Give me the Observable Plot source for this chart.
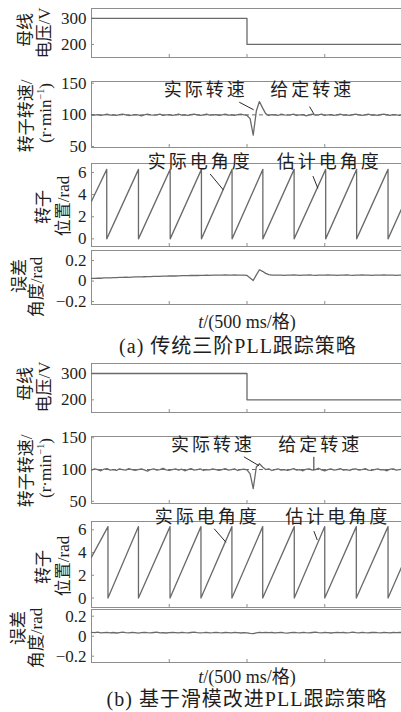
<!DOCTYPE html>
<html><head><meta charset="utf-8">
<script src="https://cdn.jsdelivr.net/npm/d3@7"></script>
<script src="https://cdn.jsdelivr.net/npm/@observablehq/plot@0.6"></script>
<style>
html,body{margin:0;padding:0;background:#fff;}
#root{position:relative;width:401px;height:712px;overflow:hidden;font-family:"Liberation Serif","Noto Sans CJK SC",serif;color:#1e1e1e;}
.ylab{position:absolute;white-space:nowrap;font-size:17px;transform:translate(-50%,-50%) rotate(-90deg);line-height:1;}
.ylab sup{font-size:0.6em;vertical-align:0.6em;line-height:0;}
.cap{position:absolute;white-space:nowrap;transform:translate(-50%,-50%);line-height:1;}
text[aria-label="annot"]{letter-spacing:3px;}
</style></head>
<body><div id="root"></div>
<script>
// ---------- data ----------
const xTicks = [500, 1000, 1500];          // ms, 500 ms per division
const voltTicks = [200, 300];
const speedTicks = [50, 100, 150];
const posTicks = [0, 2, 4, 6];
const errTicks = [-0.2, 0, 0.2];

const voltTime = [0, 1000, 1000, 2000];
const voltA = [300, 300, 200, 200];
const voltB = [300, 300, 200, 200];

const sampleStep = 20; // ms between samples of the series below
const speedA = [
 100,99.5,100.5,99,100,101,99.5,100,99,100.5,101,100,99,99.5,100.5,100,98.5,100,101,100,
 99.5,100,101,99,100,100.5,99,100,101,99.5,100,99,100.5,101,100,99,100,101,99.5,100,
 100.5,99,100,101,99.5,100,99,100.5,101,100,
 99,94,68,106,121,111,102,99,100.5,100,
 99,101,100,99.5,100,101,99,100,100.5,98.5,100,101,99.5,100,101,99,100,100.5,99,100,
 101,99.5,100,99,100.5,101,100,99,100,101,99.5,100,99,100.5,101,100,99,100.5,100,99,100
];
const speedB = [
 99,101,100,98,100.5,101.5,99,100,98.5,101,100,99,101.5,100,98.5,100,101,99.5,97.5,100,
 101,99,100,102,99.5,98.5,100,101,99,100.5,98,100,101.5,99,100,101,98.5,100,99.5,101,
 100,98.5,100,101.5,99,100,101,98.5,100,100.5,
 99.5,93,70,104,109,104,100,101,98.5,100,
 101,99,100,98.5,100,101.5,99,100,98,100.5,101,99,100,102,99.5,98,100,101,99,100,
 101.5,99,100,98.5,100.5,101,99,100,101.5,99,98.5,100,101,99.5,100,98,100.5,101,99,100,100.5
];
const refSpeed = [100];

const errA = [
 .025,.026,.028,.027,.030,.031,.030,.033,.034,.035,.036,.037,.036,.038,.040,.041,.040,.042,.043,.044,
 .045,.046,.045,.047,.048,.049,.050,.049,.051,.052,.053,.052,.054,.055,.054,.056,.055,.057,.056,.057,
 .058,.057,.058,.059,.057,.058,.059,.058,.057,.058,
 .055,.030,.005,.060,.110,.095,.075,.062,.058,.057,
 .058,.057,.056,.058,.057,.059,.058,.056,.057,.058,.059,.057,.056,.058,.057,.058,.059,.057,.058,.056,
 .057,.058,.059,.057,.056,.058,.057,.059,.058,.057,.056,.058,.057,.058,.059,.057,.058,.057,.056,.058,.057
];
const errB = [
 .038,.035,.040,.033,.036,.039,.034,.037,.032,.036,.040,.035,.033,.038,.036,.031,.035,.039,.036,.034,
 .037,.040,.034,.036,.032,.035,.038,.036,.033,.039,.035,.034,.037,.040,.036,.033,.035,.038,.034,.036,
 .039,.035,.033,.037,.036,.034,.038,.035,.032,.036,
 .034,.028,.026,.033,.038,.036,.039,.035,.037,.034,
 .036,.038,.033,.031,.035,.039,.036,.034,.038,.035,.033,.037,.040,.036,.034,.038,.035,.032,.036,.039,
 .035,.037,.033,.036,.040,.036,.034,.038,.035,.033,.037,.039,.035,.034,.038,.036,.033,.037,.035,.038,.036
];

const posMax = 6.28;
const peaksA = [98, 302, 506, 707, 904, 1102, 1303, 1506, 1705, 1907];
const peaksB = [106, 302, 505, 704, 903, 1101, 1304, 1500, 1703, 1907];
const posStartA = 3.4, posEndA = 2.9;
const posStartB = 3.6, posEndB = 2.9;

const speedLabelsA = [{t:735, v:138.5, text:"实际转速"}, {t:1419, v:138.5, text:"给定转速"}];
const speedLeadersA = [{t1:950, v1:120, t2:1043, v2:108}, {t1:1402, v1:113, t2:1430, v2:101.5}];
const posLabelsA = [{t:700, v:6.9, text:"实际电角度"}, {t:1529, v:6.9, text:"估计电角度"}];
const posLeadersA = [{t1:763, v1:5.86, t2:848, v2:4.42}, {t1:1424, v1:5.67, t2:1456, v2:4.56}];

const speedLabelsB = [{t:782, v:137.7, text:"实际转速"}, {t:1471, v:137.7, text:"给定转速"}];
const speedLeadersB = [{t1:980, v1:120, t2:1077, v2:106}, {t1:1430, v1:120, t2:1430, v2:99}];
const posLabelsB = [{t:745, v:7.1, text:"实际电角度"}, {t:1584, v:7.1, text:"估计电角度"}];
const posLeadersB = [{t1:789, v1:6.09, t2:865, v2:4.9}, {t1:1430, v1:5.88, t2:1452, v2:5.1}];

const yLabels = [
 {html:"母线", x:25, y:30}, {html:"电压/V", x:44, y:33},
 {html:"转子转速/", x:26, y:116}, {html:"(r·min<sup>−1</sup>)", x:45, y:113},
 {html:"转子", x:43, y:207}, {html:"位置/rad", x:63, y:206},
 {html:"误差", x:19, y:276}, {html:"角度/rad", x:36, y:287},
 {html:"母线", x:25, y:384}, {html:"电压/V", x:44, y:387},
 {html:"转子转速/", x:26, y:471}, {html:"(r·min<sup>−1</sup>)", x:45, y:468},
 {html:"转子", x:43, y:567}, {html:"位置/rad", x:63, y:566},
 {html:"误差", x:18, y:628}, {html:"角度/rad", x:36, y:638}
];
const captions = [
 {html:"<i>t</i>/(500 ms/格)", x:247, y:322, size:18, ls:0},
 {html:"(a) 传统三阶PLL跟踪策略", x:238, y:346, size:20, ls:1},
 {html:"<i>t</i>/(500 ms/格)", x:247, y:677, size:18, ls:0},
 {html:"(b) 基于滑模改进PLL跟踪策略", x:247, y:699, size:20, ls:1}
];

// ---------- drawing ----------
const root = document.getElementById("root");
const lineColor = "#6a6a6a";
const frameColor = "#8e8e8e";
const fontFam = '"Liberation Serif","Noto Sans CJK SC",serif';
const W = 403, ML = 91, MR = 1;

const fmt = d => Math.abs(d) < 1e-9 ? "0" : String(Math.round(d * 10) / 10).replace("-", "−");
const series = (arr) => arr.map((v, i) => ({t: i * sampleStep, v}));
const stepSeries = (ts, vs) => ts.map((t, i) => ({t, v: vs[i]}));
function sawtooth(peaks, start, end) {
  const pts = [{t: 0, v: start}];
  for (const p of peaks) { pts.push({t: p, v: posMax}); pts.push({t: p, v: 0}); }
  pts.push({t: 2000, v: end});
  return pts;
}
function annot(labels, leaders) {
  return [
    Plot.link(leaders, {x1:"t1", y1:"v1", x2:"t2", y2:"v2", stroke:"#2a2a2a", strokeWidth:1}),
    Plot.text(labels, {x:"t", y:"v", text:"text", fontSize:18, fill:"#1e1e1e",
      fontFamily:'"Noto Sans CJK SC",sans-serif', ariaLabel: () => "annot"})
  ];
}
function panel(top, bottom, yDomain, yTicks, marks) {
  const H = bottom - top + 4;
  const p = Plot.plot({
    width: W, height: H, marginTop: 2, marginBottom: 2, marginLeft: ML, marginRight: MR,
    x: {domain: [0, 2000], axis: null},
    y: {domain: yDomain},
    style: {fontSize: "17px", fontFamily: fontFam, color: "#1e1e1e", background: "transparent",
            overflow: "visible", maxWidth: "none"},
    marks: [
      Plot.frame({stroke: frameColor}),
      Plot.tickX(xTicks, {x: d => d, stroke: frameColor, insetTop: H - 4 - 3}),
      Plot.tickY(yTicks, {y: d => d, stroke: frameColor, insetRight: W - ML - MR - 3}),
      Plot.axisY({ticks: yTicks, tickSize: 0, tickPadding: 5, label: null, tickFormat: fmt}),
      ...marks
    ]
  });
  p.style.position = "absolute";
  p.style.left = "0px";
  p.style.top = (top - 2) + "px";
  root.appendChild(p);
}
const ln = (data) => Plot.line(data, {x:"t", y:"v", stroke: lineColor, strokeWidth: 1.3});
const dashRef = Plot.ruleY(refSpeed, {y: d => d, stroke: lineColor, strokeWidth: 1, strokeDasharray: "4,3"});

// (a)
panel(8, 57, [150, 338], voltTicks, [ln(stepSeries(voltTime, voltA))]);
panel(81, 147, [48.4, 152.7], speedTicks, [dashRef, ln(series(speedA)), ...annot(speedLabelsA, speedLeadersA)]);
panel(163, 246, [-0.69, 6.81], posTicks, [ln(sawtooth(peaksA, posStartA, posEndA)), ...annot(posLabelsA, posLeadersA)]);
panel(250, 304, [-0.229, 0.298], errTicks, [ln(series(errA))]);
// (b)
panel(363, 412, [152, 338], voltTicks, [ln(stepSeries(voltTime, voltB))]);
panel(436, 503, [46.5, 152], speedTicks, [dashRef, ln(series(speedB)), ...annot(speedLabelsB, speedLeadersB)]);
panel(521, 607, [-0.83, 6.73], posTicks, [ln(sawtooth(peaksB, posStartB, posEndB)), ...annot(posLabelsB, posLeadersB)]);
panel(609, 662, [-0.263, 0.267], errTicks, [ln(series(errB))]);

for (const l of yLabels) {
  const d = document.createElement("div");
  d.className = "ylab";
  d.innerHTML = l.html;
  d.style.left = l.x + "px"; d.style.top = l.y + "px";
  root.appendChild(d);
}
for (const c of captions) {
  const d = document.createElement("div");
  d.className = "cap";
  d.innerHTML = c.html;
  d.style.left = c.x + "px"; d.style.top = c.y + "px";
  d.style.fontSize = c.size + "px"; d.style.letterSpacing = c.ls + "px";
  root.appendChild(d);
}
</script>
</body></html>
